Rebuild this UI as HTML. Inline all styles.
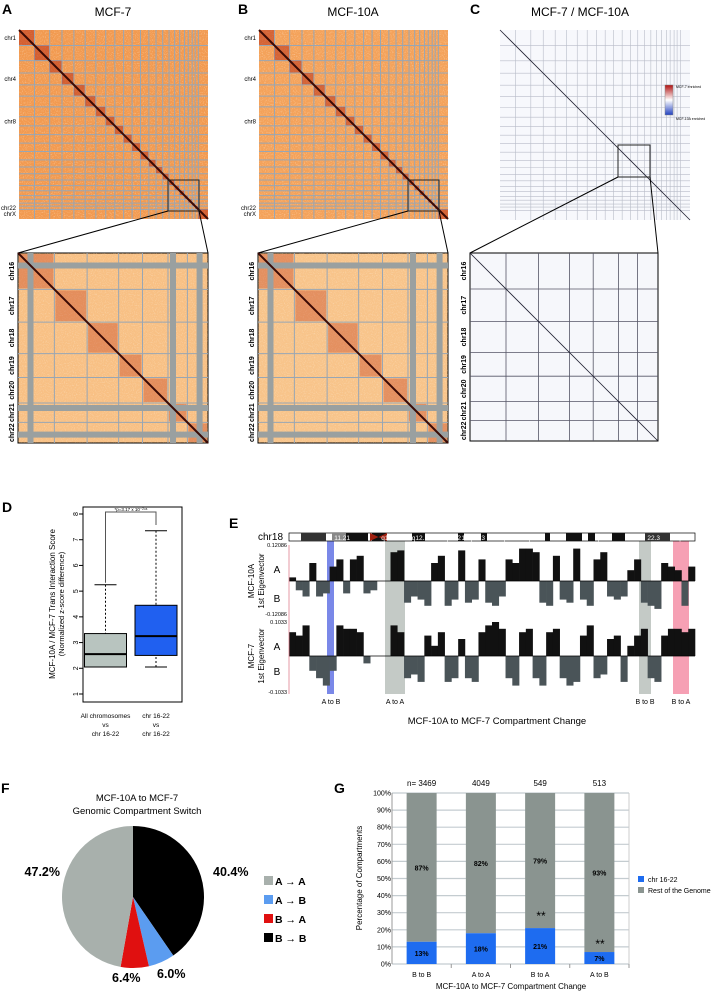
<!DOCTYPE html>
<html><head><meta charset="utf-8"><style>
body{margin:0;background:#fff;}
svg{display:block;font-family:"Liberation Sans",sans-serif;}
</style></head><body>
<svg id="fig" width="720" height="992" viewBox="0 0 720 992">
<defs>
<filter id="speck" x="0" y="0" width="100%" height="100%">
<feTurbulence type="fractalNoise" baseFrequency="0.9" numOctaves="1" seed="3" result="n"/>
<feColorMatrix in="n" type="matrix" values="0 0 0 0 1  0 0 0 0 0.95  0 0 0 0 0.85  0 0 0 1.6 -0.8"/>
</filter>
</defs>
<g id="panelA"></g>
<g id="panelB"></g>
<g id="panelC"></g>
<g id="panelD"></g>
<g id="panelE"></g>
<g id="panelF"></g>
<g id="panelG"></g>
</svg>
<script>
// ---- data ----
const chrSizes=[249,243,198,191,181,171,159,146,141,136,135,134,115,107,102,90,81,78,59,63,48,51,155];
const zoomChrSizes=[90,81,78,59,63,48,51];
const zoomChrLabels=['chr16','chr17','chr18','chr19','chr20','chr21','chr22'];
const boxCats=['All chromosomes','chr 16-22'];
const boxQ1=[2.05,2.5];
const boxMed=[2.55,3.25];
const boxQ3=[3.35,4.45];
const boxLo=[2.05,2.05];
const boxHi=[5.25,7.35];
const boxTicks=[1,2,3,4,5,6,7,8];
const eig10A=[0.1,-0.3,-0.5,0.5,-0.5,-0.4,0.4,0.6,-0.4,0.6,0.7,-0.4,-0.3,0,0,0.8,0.85,-0.7,-0.5,-0.6,-0.8,0.5,0.7,-0.8,-0.6,0.85,-0.7,-0.6,0.6,-0.7,-0.8,-0.5,0.6,0.5,0.9,0.9,0.8,-0.7,-0.8,0.7,-0.6,-0.7,0.9,-0.6,-0.8,0.6,0.8,-0.5,-0.6,-0.5,0.3,0.6,-0.7,-0.8,-0.9,0.5,0.4,0.3,-0.8,0.4];
const eig7=[0.7,0.6,0.9,-0.4,-0.6,-0.8,-0.4,0.9,0.8,0.8,0.7,-0.2,0,0,0,0.9,0.7,-0.6,-0.5,-0.7,0.6,0.3,0.7,-0.7,-0.6,0.5,-0.6,-0.7,0.7,0.9,1.0,0.8,-0.6,-0.8,0.7,0.8,-0.6,-0.8,0.7,0.8,-0.6,-0.8,-0.7,0.6,0.9,-0.6,-0.5,0.5,0.6,-0.7,0.3,0.6,0.8,-0.6,-0.7,0.6,0.8,0.8,0.7,0.8];
const pieLabels=['B → B','A → B','B → A','A → A'];
const pieValues=[40.4,6.0,6.4,47.2];
const barCats=['B to B','A to A','B to A','A to B'];
const barN=[3469,4049,549,513];
const barChr=[13,18,21,7];
const barRest=[87,82,79,93];
const barTicks=[0,10,20,30,40,50,60,70,80,90,100];

const NS='http://www.w3.org/2000/svg';
function mk(parent,tag,attrs,text){const e=document.createElementNS(NS,tag);for(const k in attrs)e.setAttribute(k,attrs[k]);if(text!==undefined)e.textContent=text;parent.appendChild(e);return e;}

// ---- heatmaps ----
function heat(g,x,y,s,sizes,base,diag,line,lineW,labels,labelIdx,sparse){
  const tot=sizes.reduce((a,b)=>a+b,0);
  const bg=mk(g,'rect',{x:x,y:y,width:s,height:s,fill:base});
  
  
  if(!sparse) mk(g,'rect',{x:x,y:y,width:s,height:s,filter:'url(#speck)',opacity:0.7});
  let acc=0;
  sizes.forEach((c,i)=>{
    const p=x+acc/tot*s, w=c/tot*s, q=y+acc/tot*s;
    if(!sparse){
      const b=mk(g,'rect',{x:p,y:q,width:w,height:w,fill:diag,opacity:0.45});
      
      
    }
    acc+=c;
    if(i<sizes.length-1){
      const pp=x+acc/tot*s, qq=y+acc/tot*s;
      mk(g,'line',{x1:pp,y1:y,x2:pp,y2:y+s,stroke:line,'stroke-width':lineW});
      mk(g,'line',{x1:x,y1:qq,x2:x+s,y2:qq,stroke:line,'stroke-width':lineW});
    }
  });
  mk(g,'line',{x1:x,y1:y,x2:x+s,y2:y+s,stroke:sparse?'#223':'#3a0a05','stroke-width':sparse?0.8:2});
  if(labels){
    let a2=0;
    sizes.forEach((c,i)=>{
      const mid=y+(a2+c/2)/tot*s; a2+=c;
      if(labelIdx.includes(i)){
        const t=mk(g,'text',{x:x-3,y:mid+2,'font-size':sparse?5:6,'text-anchor':'end'},labels[i]);
        
        
      }
    });
  }
}
function zoomHeat(g,x,y,s,base,diag,band,sparse){
  const tot=zoomChrSizes.reduce((a,b)=>a+b,0);
  mk(g,'rect',{x:x,y:y,width:s,height:s,fill:base,stroke:'#000','stroke-width':1});
  if(!sparse) mk(g,'rect',{x:x,y:y,width:s,height:s,filter:'url(#speck)',opacity:0.6});
  let acc=0;
  zoomChrSizes.forEach((c,i)=>{
    const p=x+acc/tot*s,w=c/tot*s,q=y+acc/tot*s;
    if(!sparse){
      mk(g,'rect',{x:p+1,y:q+1,width:w-2,height:w-2,fill:diag,opacity:0.35});
    }
    const t=mk(g,'text',{x:x-4,y:q+w/2,'font-size':7,'font-weight':'bold','text-anchor':'middle',transform:`rotate(-90 ${x-4} ${q+w/2})`},zoomChrLabels[i]);
    
    
    acc+=c;
    if(i<zoomChrSizes.length-1){
      const pp=x+acc/tot*s;
      mk(g,'line',{x1:pp,y1:y,x2:pp,y2:y+s,stroke:band,'stroke-width':sparse?0.8:1});
      mk(g,'line',{x1:x,y1:y+acc/tot*s,x2:x+s,y2:y+acc/tot*s,stroke:band,'stroke-width':sparse?0.8:1});
    }
  });
  if(!sparse){
    [0.05,0.94].forEach(f=>{
      mk(g,'rect',{x:x+f*s,y:y,width:6,height:s,fill:'#9aa0a0'});
      mk(g,'rect',{x:x,y:y+f*s,width:s,height:6,fill:'#9aa0a0'});
    });
    mk(g,'rect',{x:x+0.8*s,y:y,width:6,height:s,fill:'#9aa0a0'});
    mk(g,'rect',{x:x,y:y+0.8*s,width:s,height:6,fill:'#9aa0a0'});
  }
  mk(g,'line',{x1:x,y1:y,x2:x+s,y2:y+s,stroke:sparse?'#223':'#3a0a05','stroke-width':sparse?0.8:2});
}
function proj(g,bx,by,bs,zx,zy,zs){
  mk(g,'rect',{x:bx,y:by,width:bs,height:bs,fill:'none',stroke:'#222','stroke-width':1});
  mk(g,'line',{x1:bx,y1:by+bs,x2:zx,y2:zy,stroke:'#000','stroke-width':1});
  mk(g,'line',{x1:bx+bs,y1:by+bs,x2:zx+zs,y2:zy,stroke:'#000','stroke-width':1});
}
const chrLbl=['chr1','','','chr4','','','','chr8','','','','','','','','','','','','','','chr22','chrX'];
const lblIdx=[0,3,7,21,22];
// A
const gA=document.getElementById('panelA');
mk(gA,'text',{x:2,y:14,'font-size':14,'font-weight':'bold'},'A');
mk(gA,'text',{x:113,y:16,'font-size':12,'text-anchor':'middle'},'MCF-7');
heat(gA,19,30,189,chrSizes,'#f29a50','#b01808','#98a6b4',1,chrLbl,lblIdx,false);
proj(gA,168,180,31,18,253,190);
zoomHeat(gA,18,253,190,'#f8c084','#c03010','#98a6b4',false);
// B
const gB=document.getElementById('panelB');
mk(gB,'text',{x:238,y:14,'font-size':14,'font-weight':'bold'},'B');
mk(gB,'text',{x:353,y:16,'font-size':12,'text-anchor':'middle'},'MCF-10A');
heat(gB,259,30,189,chrSizes,'#f4a25a','#b01808','#98a6b4',1,chrLbl,lblIdx,false);
proj(gB,408,180,31,258,253,190);
zoomHeat(gB,258,253,190,'#f8c48a','#c03010','#98a6b4',false);
// C
const gC=document.getElementById('panelC');
mk(gC,'text',{x:470,y:14,'font-size':14,'font-weight':'bold'},'C');
mk(gC,'text',{x:580,y:16,'font-size':12,'text-anchor':'middle'},'MCF-7 / MCF-10A');
heat(gC,500,30,190,chrSizes,'#f7f8fc','#fff','#b8bcc8',0.6,null,[],true);
proj(gC,618,145,32,470,253,188);
zoomHeat(gC,470,253,188,'#f6f7fb','#fff','#556',true);
const cbd=mk(gC,'defs',{});
const lg=mk(cbd,'linearGradient',{id:'cbar',x1:0,y1:0,x2:0,y2:1});
mk(lg,'stop',{offset:'0','stop-color':'#b01010'});mk(lg,'stop',{offset:'0.5','stop-color':'#fff'});mk(lg,'stop',{offset:'1','stop-color':'#2040c0'});
mk(gC,'rect',{x:665,y:85,width:8,height:30,fill:'url(#cbar)',stroke:'#888','stroke-width':0.5});
mk(gC,'text',{x:676,y:88,'font-size':3.5},'MCF-7 enriched');
mk(gC,'text',{x:676,y:120,'font-size':3.5},'MCF-10A enriched');

// ---- D boxplot ----
const gD=document.getElementById('panelD');
mk(gD,'text',{x:2,y:512,'font-size':14,'font-weight':'bold'},'D');
const dL=83,dR=182,dT=507,dB=702;
const yD=v=>694-(v-1)*(694-514)/7;
const xD=i=>[105.5,156][i];
mk(gD,'rect',{x:dL,y:dT,width:dR-dL,height:dB-dT,fill:'none',stroke:'#000','stroke-width':1});
boxTicks.forEach(t=>{mk(gD,'line',{x1:dL-4,y1:yD(t),x2:dL,y2:yD(t),stroke:'#000'});
 const tt=mk(gD,'text',{x:dL-7,y:yD(t),'font-size':7,'text-anchor':'middle',transform:`rotate(-90 ${dL-7} ${yD(t)})`,dy:2},t);
 });
const yt=mk(gD,'text',{x:55,y:604,'font-size':8,'text-anchor':'middle',transform:'rotate(-90 55 604)'},'MCF-10A / MCF-7 Trans Interaction Score');

mk(gD,'text',{x:64,y:604,'font-size':7.5,'text-anchor':'middle',transform:'rotate(-90 64 604)'},'(Normalized z-score difference)');
const bfill=['#b8c4bf','#2060f0'];
boxCats.forEach((c,i)=>{
  const cx=xD(i),hw=21;
  mk(gD,'line',{x1:cx,y1:yD(boxHi[i]),x2:cx,y2:yD(boxQ3[i]),stroke:'#000','stroke-dasharray':'2,2'});
  mk(gD,'line',{x1:cx,y1:yD(boxLo[i]),x2:cx,y2:yD(boxQ1[i]),stroke:'#000','stroke-dasharray':'2,2'});
  mk(gD,'line',{x1:cx-11,y1:yD(boxHi[i]),x2:cx+11,y2:yD(boxHi[i]),stroke:'#000'});
  mk(gD,'line',{x1:cx-11,y1:yD(boxLo[i]),x2:cx+11,y2:yD(boxLo[i]),stroke:'#000'});
  const r=mk(gD,'rect',{x:cx-hw,y:yD(boxQ3[i]),width:hw*2,height:yD(boxQ1[i])-yD(boxQ3[i]),fill:bfill[i],stroke:'#000'});
  
  mk(gD,'line',{x1:cx-hw,y1:yD(boxMed[i]),x2:cx+hw,y2:yD(boxMed[i]),stroke:'#000','stroke-width':2});
});
mk(gD,'text',{x:xD(0),y:718,'font-size':6.5,'text-anchor':'middle'},'All chromosomes');
mk(gD,'text',{x:xD(0),y:727,'font-size':6.5,'text-anchor':'middle'},'vs');
mk(gD,'text',{x:xD(0),y:736,'font-size':6.5,'text-anchor':'middle'},'chr 16-22');
mk(gD,'text',{x:xD(1),y:718,'font-size':6.5,'text-anchor':'middle'},'chr 16-22');
mk(gD,'text',{x:xD(1),y:727,'font-size':6.5,'text-anchor':'middle'},'vs');
mk(gD,'text',{x:xD(1),y:736,'font-size':6.5,'text-anchor':'middle'},'chr 16-22');
mk(gD,'polyline',{points:`${xD(0)},${yD(5.25)-2} ${xD(0)},512 ${xD(1)},512 ${xD(1)},525`,fill:'none',stroke:'#555'});
mk(gD,'text',{x:131,y:511,'font-size':4.5,'text-anchor':'middle'},'*p=3.17 x 10⁻²⁴⁶');

// ---- E eigenvector ----
const gE=document.getElementById('panelE');
mk(gE,'text',{x:229,y:528,'font-size':14,'font-weight':'bold'},'E');
const eL=289,eR=695;
const xE=i=>eL+i*(eR-eL)/eig10A.length;
const bw=(eR-eL)/eig10A.length;
[[327,334,'#7a88e8'],[385,405,'#c4cac6'],[639,651,'#c4cac6'],[673,689,'#f6a0b4']].forEach(h=>{
  mk(gE,'rect',{x:h[0],y:541,width:h[1]-h[0],height:153,fill:h[2]});});
mk(gE,'text',{x:258,y:540,'font-size':10},'chr18');
mk(gE,'rect',{x:eL,y:533,width:eR-eL,height:8,fill:'#fff',stroke:'#000','stroke-width':0.7});
[[301,326,'#333'],[332,346,'#888'],[346,368,'#111'],[372,386,'#111'],[412,425,'#111'],[458,464,'#111'],[481,487,'#111'],[545,550,'#111'],[566,582,'#111'],[588,595,'#111'],[612,625,'#111'],[645,670,'#333']].forEach(b=>mk(gE,'rect',{x:b[0],y:533,width:b[1]-b[0],height:8,fill:b[2]}));
mk(gE,'polygon',{points:'370,533 387,541 387,533 370,541',fill:'#a02010'});
[['11.21',350],['q11.2',397],['18q12.1',428],['q12.2',461],['18q12.3',485],['q21.1',518],['q21.2',543],['q22.1',612],['22.3',660],['18q23',688]].forEach(l=>mk(gE,'text',{x:l[1],y:540,'font-size':6.5,fill:'#fff','text-anchor':'end'},l[0]));
function track(arr,zero,top,bot,name){
  const sc=v=>v>0?zero-v*(zero-top):zero-v*(bot-zero);
  arr.forEach((v,i)=>{
    const r=mk(gE,'rect',{x:xE(i),y:Math.min(zero,sc(v)),width:bw+0.3,height:Math.abs(sc(v)-zero),fill:v>0?'#111':'#4a5458'});
    
    
  });
  mk(gE,'line',{x1:eL,y1:zero,x2:eR,y2:zero,stroke:'#000','stroke-width':0.8});
}
track(eig10A,581,545,612,'mcf10a-eigen');
track(eig7,656,622,693,'mcf7-eigen');
mk(gE,'line',{x1:289,y1:545,x2:289,y2:694,stroke:'#e08090','stroke-width':0.8});
[['0.12086',545],['-0.12086',614],['0.1033',622],['-0.1033',692]].forEach(l=>mk(gE,'text',{x:287,y:l[1]+2,'font-size':5.5,'text-anchor':'end'},l[0]));
[['A',569],['B',598],['A',646],['B',671]].forEach(l=>mk(gE,'text',{x:277,y:l[1]+4,'font-size':10,'text-anchor':'middle'},l[0]));
mk(gE,'text',{x:254,y:581,'font-size':8,'text-anchor':'middle',transform:'rotate(-90 254 581)'},'MCF-10A');
mk(gE,'text',{x:264,y:581,'font-size':8,'text-anchor':'middle',transform:'rotate(-90 264 581)'},'1st Eigenvector');
mk(gE,'text',{x:254,y:656,'font-size':8,'text-anchor':'middle',transform:'rotate(-90 254 656)'},'MCF-7');
mk(gE,'text',{x:264,y:656,'font-size':8,'text-anchor':'middle',transform:'rotate(-90 264 656)'},'1st Eigenvector');
[['A to B',331],['A to A',395],['B to B',645],['B to A',681]].forEach(l=>mk(gE,'text',{x:l[1],y:704,'font-size':7,'text-anchor':'middle'},l[0]));
mk(gE,'text',{x:497,y:724,'font-size':9.5,'text-anchor':'middle'},'MCF-10A to MCF-7 Compartment Change');

// ---- F pie ----
const gF=document.getElementById('panelF');
mk(gF,'text',{x:1,y:793,'font-size':14,'font-weight':'bold'},'F');
mk(gF,'text',{x:137,y:801,'font-size':9.5,'text-anchor':'middle'},'MCF-10A to MCF-7');
mk(gF,'text',{x:137,y:814,'font-size':9.5,'text-anchor':'middle'},'Genomic Compartment Switch');
const pcx=133,pcy=897,pr=71;
const pcol=['#000','#5b9cf0','#e01010','#a8b0ac'];
const ptot=pieValues.reduce((a,b)=>a+b,0);
let ang=-Math.PI/2;
pieValues.forEach((v,i)=>{
  const a2=ang+v/ptot*2*Math.PI;
  const large=(a2-ang)>Math.PI?1:0;
  const p=mk(gF,'path',{d:`M${pcx},${pcy} L${pcx+pr*Math.cos(ang)},${pcy+pr*Math.sin(ang)} A${pr},${pr} 0 ${large} 1 ${pcx+pr*Math.cos(a2)},${pcy+pr*Math.sin(a2)} Z`,fill:pcol[i]});
  
  
  ang=a2;
});
const plx=[[213,876,'start'],[157,978,'start'],[112,982,'start'],[60,876,'end']];
pieValues.forEach((v,i)=>{const t=mk(gF,'text',{x:plx[i][0],y:plx[i][1],'font-size':12.5,'font-weight':'bold','text-anchor':plx[i][2]},v.toFixed(1)+'%');
 });
const legOrder=[3,1,2,0];
legOrder.forEach((k,j)=>{
  const y=884+j*19;
  mk(gF,'rect',{x:264,y:y-8,width:9,height:9,fill:pcol[k]});
  const t=mk(gF,'text',{x:275,y:y+1,'font-size':10.5,'font-weight':'bold'},pieLabels[k].replace('→',' → '));
  
});

// ---- G stacked bars ----
const gG=document.getElementById('panelG');
mk(gG,'text',{x:334,y:793,'font-size':14,'font-weight':'bold'},'G');
const gL2=392,gR2=629,gT2=793,gB2=964;
const yG=v=>gB2-v/100*(gB2-gT2);
const xG=i=>gL2+(i+0.5)*(gR2-gL2)/barCats.length;
barTicks.forEach(t=>{
  mk(gG,'line',{x1:gL2,y1:yG(t),x2:gR2,y2:yG(t),stroke:'#c4ccd0','stroke-width':1.2});
  const tt=mk(gG,'text',{x:gL2-1,y:yG(t)+2.5,'font-size':7,'text-anchor':'end'},t+'%');
  
});
mk(gG,'line',{x1:gL2,y1:gT2,x2:gL2,y2:gB2,stroke:'#999'});
mk(gG,'line',{x1:gR2,y1:gT2,x2:gR2,y2:gB2,stroke:'#ccc'});
barCats.forEach((c,i)=>{
  const x=xG(i)-15;
  const r1=mk(gG,'rect',{x:x,y:yG(100),width:30,height:yG(barChr[i])-yG(100),fill:'#8a9490'});
  
  const r2=mk(gG,'rect',{x:x,y:yG(barChr[i]),width:30,height:gB2-yG(barChr[i]),fill:'#1e6cf0'});
  
  mk(gG,'text',{x:xG(i),y:yG(barChr[i]/2)+3,'font-size':7,'font-weight':'bold','text-anchor':'middle'},barChr[i]+'%');
  mk(gG,'text',{x:xG(i),y:yG(barChr[i]+barRest[i]/2)+3,'font-size':7,'font-weight':'bold','text-anchor':'middle'},barRest[i]+'%');
  mk(gG,'text',{x:xG(i),y:786,'font-size':8,'text-anchor':'middle'},(i===0?'n= ':'')+barN[i]);
  mk(gG,'text',{x:xG(i),y:977,'font-size':7,'text-anchor':'middle'},c);
  mk(gG,'line',{x1:gL2+(i+1)*(gR2-gL2)/4,y1:gB2,x2:gL2+(i+1)*(gR2-gL2)/4,y2:gB2+4,stroke:'#999'});
});
mk(gG,'text',{x:541,y:920,'font-size':12,'text-anchor':'middle'},'**');
mk(gG,'text',{x:600,y:948,'font-size':12,'text-anchor':'middle'},'**');
mk(gG,'text',{x:511,y:989,'font-size':8,'text-anchor':'middle'},'MCF-10A to MCF-7 Compartment Change');
mk(gG,'text',{x:362,y:878,'font-size':8,'text-anchor':'middle',transform:'rotate(-90 362 878)'},'Percentage of Compartments');
mk(gG,'rect',{x:638,y:876,width:6,height:6,fill:'#1e6cf0'});
mk(gG,'text',{x:648,y:882,'font-size':7},'chr 16-22');
mk(gG,'rect',{x:638,y:887,width:6,height:6,fill:'#8a9490'});
mk(gG,'text',{x:648,y:893,'font-size':7},'Rest of the Genome');
</script>
</body></html>
